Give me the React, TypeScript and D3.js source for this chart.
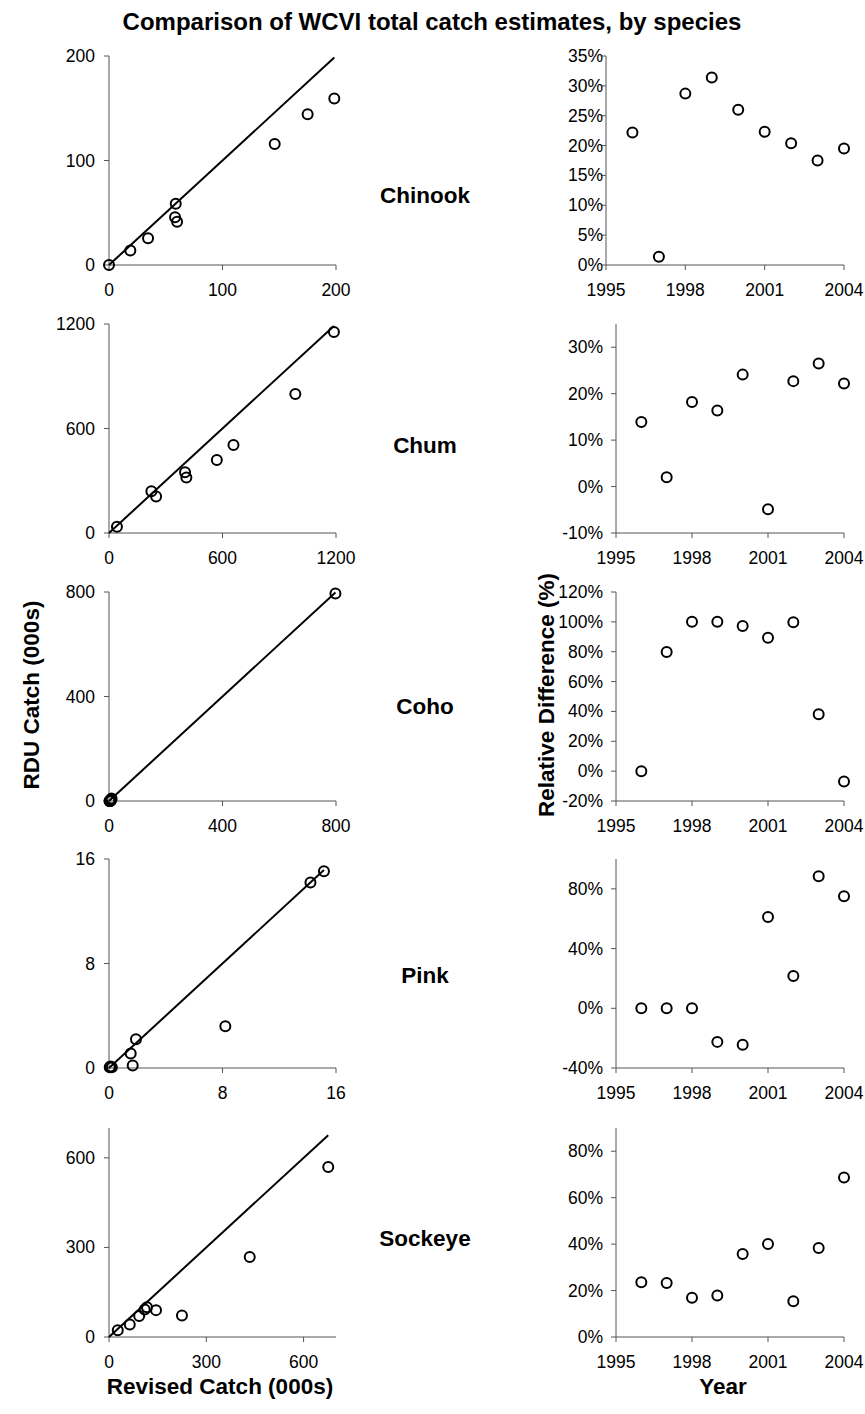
import React from "react";
import * as d3 from "d3";

const species = ["Chinook", "Chum", "Coho", "Pink", "Sockeye"];
const years = [1996, 1997, 1998, 1999, 2000, 2001, 2002, 2003, 2004];
const yearTicks = [1995, 1998, 2001, 2004];

const chinookRevised = [0, 18.8, 34.4, 58.8, 58.2, 60, 146, 175, 198.5];
const chinookRDU = [0, 13.8, 25.6, 58.6, 45.8, 41.3, 115.8, 144.3, 159.4];
const chinookRel = [22.2, 1.4, 28.7, 31.4, 26.0, 22.3, 20.4, 17.5, 19.5];

const chumRevised = [42, 224, 249, 402, 409, 570, 658, 985, 1189];
const chumRDU = [36, 240, 210, 349, 318, 419, 505, 798, 1154];
const chumRel = [13.9, 2.0, 18.2, 16.4, 24.1, -4.9, 22.7, 26.5, 22.2];

const cohoRevised = [798, 5, 3, 2, 4, 6, 2, 8, 9];
const cohoRDU = [794, 1, 0, 0, 0.1, 0.7, 0, 5, 9.6];
const cohoRel = [0, 79.8, 100, 100, 97.3, 89.4, 99.8, 38.1, -6.9];

const pinkRevised = [14.2, 15.15, 0.05, 1.9, 0.1, 8.2, 1.53, 1.67, 0.2];
const pinkRDU = [14.2, 15.06, 0.05, 2.2, 0.12, 3.2, 1.11, 0.2, 0.05];
const pinkRel = [0, 0, 0, -22.5, -24.5, 61.1, 21.6, 88.4, 75.1];

const sockeyeRevised = [27, 64, 93, 110, 117, 145, 225, 434, 676];
const sockeyeRDU = [23, 42, 70, 92, 100, 90, 72, 268, 569];
const sockeyeRel = [23.6, 23.3, 16.9, 17.9, 35.7, 40.0, 15.4, 38.3, 68.7];

const catchDomains = [200, 1200, 800, 16, 700];
const catchTicks = [[0, 100, 200], [0, 600, 1200], [0, 400, 800], [0, 8, 16], [0, 300, 600]];
const relDomains = [[0, 35], [-10, 35], [-20, 120], [-40, 100], [0, 90]];
const relTicks = [
  [0, 5, 10, 15, 20, 25, 30, 35],
  [-10, 0, 10, 20, 30],
  [-20, 0, 20, 40, 60, 80, 100, 120],
  [-40, 0, 40, 80],
  [0, 20, 40, 60, 80],
];

const revisedAll = [chinookRevised, chumRevised, cohoRevised, pinkRevised, sockeyeRevised];
const rduAll = [chinookRDU, chumRDU, cohoRDU, pinkRDU, sockeyeRDU];
const relAll = [chinookRel, chumRel, cohoRel, pinkRel, sockeyeRel];

const FONT = "'Liberation Sans', Arial, Helvetica, sans-serif";
const rowTop = [56, 324, 592, 859, 1128];
const rowH = 209;
const labelY = [195, 445, 706, 975, 1238];
const AX = "#555";
const R = 5;
const TICKFS = 17.5;

function Row({ i }: { i: number }) {
  const top = rowTop[i];
  const bottom = top + rowH;
  const lx0 = 109, lx1 = 336;
  const rx0 = i === 0 ? 606 : 616, rx1 = 844;
  const x = d3.scaleLinear().domain([0, catchDomains[i]]).range([lx0, lx1]);
  const y = d3.scaleLinear().domain([0, catchDomains[i]]).range([bottom, top]);
  const xr = d3.scaleLinear().domain([1995, 2004]).range([rx0, rx1]);
  const yr = d3.scaleLinear().domain(relDomains[i]).range([bottom, top]);
  const rev = revisedAll[i];
  const rdu = rduAll[i];
  const rel = relAll[i];
  const lineMax = d3.max(rev) as number;
  const line = d3.line<number>().x((v) => x(v)).y((v) => y(v))([0, lineMax]) || "";
  const pts = rev.map((v, k) => ({ a: v, b: rdu[k] }));
  return (
    <g>
      {/* left panel */}
      <line x1={lx0} x2={lx0} y1={top} y2={bottom} stroke={AX} />
      <line x1={lx0} x2={lx1} y1={bottom} y2={bottom} stroke={AX} />
      {catchTicks[i].map((t) => (
        <g key={"ly" + t}>
          <line x1={lx0 - 5} x2={lx0} y1={y(t)} y2={y(t)} stroke={AX} />
          <text x={95} y={y(t) + 6} textAnchor="end" fontSize={TICKFS} fontFamily={FONT}>{t}</text>
        </g>
      ))}
      {catchTicks[i].map((t) => (
        <g key={"lx" + t}>
          <line x1={x(t)} x2={x(t)} y1={bottom} y2={bottom + 5} stroke={AX} />
          <text x={x(t)} y={bottom + 31} textAnchor="middle" fontSize={TICKFS} fontFamily={FONT}>{t}</text>
        </g>
      ))}
      <path d={line} stroke="#000" strokeWidth={2} fill="none" />
      {pts.map((p, k) => (
        <circle key={k} cx={x(p.a)} cy={y(p.b)} r={R} fill="none" stroke="#000" strokeWidth={2} />
      ))}
      {/* species label */}
      <text x={425} y={labelY[i] + 8} textAnchor="middle" fontSize={22.5} fontWeight="bold" fontFamily={FONT}>{species[i]}</text>
      {/* right panel */}
      <line x1={rx0} x2={rx0} y1={top} y2={bottom} stroke={AX} />
      <line x1={rx0} x2={rx1} y1={yr(relDomains[i][0])} y2={yr(relDomains[i][0])} stroke={AX} />
      {relTicks[i].map((t) => (
        <g key={"ry" + t}>
          <line x1={rx0 - 5} x2={rx0} y1={yr(t)} y2={yr(t)} stroke={AX} />
          <text x={603} y={yr(t) + 6} textAnchor="end" fontSize={TICKFS} fontFamily={FONT}>{t + "%"}</text>
        </g>
      ))}
      {yearTicks.map((t) => (
        <g key={"rx" + t}>
          <line x1={xr(t)} x2={xr(t)} y1={bottom} y2={bottom + 5} stroke={AX} />
          <text x={xr(t)} y={bottom + 31} textAnchor="middle" fontSize={TICKFS} fontFamily={FONT}>{t}</text>
        </g>
      ))}
      {years.map((yy, k) => (
        <circle key={yy} cx={xr(yy)} cy={yr(rel[k])} r={R} fill="none" stroke="#000" strokeWidth={2} />
      ))}
    </g>
  );
}

export default function App() {
  return (
    <svg width={865} height={1414} style={{ position: "absolute", left: 0, top: 0, background: "#fff" }}>
      <text x={432} y={30} textAnchor="middle" fontSize={24} fontWeight="bold" fontFamily={FONT}>
        Comparison of WCVI total catch estimates, by species
      </text>
      {species.map((s, i) => <Row key={s} i={i} />)}
      <text transform="translate(39,695) rotate(-90)" textAnchor="middle" fontSize={22.5} fontWeight="bold" fontFamily={FONT}>RDU Catch (000s)</text>
      <text transform="translate(554,695) rotate(-90)" textAnchor="middle" fontSize={22.5} fontWeight="bold" fontFamily={FONT}>Relative Difference (%)</text>
      <text x={220} y={1394} textAnchor="middle" fontSize={22.5} fontWeight="bold" fontFamily={FONT}>Revised Catch (000s)</text>
      <text x={723} y={1394} textAnchor="middle" fontSize={22.5} fontWeight="bold" fontFamily={FONT}>Year</text>
    </svg>
  );
}
